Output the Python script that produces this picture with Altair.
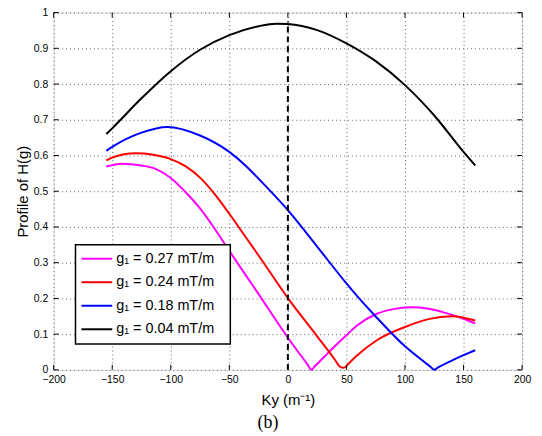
import altair as alt
import pandas as pd

# ---- data ----
series_labels = ["g₁ = 0.27 mT/m", "g₁ = 0.24 mT/m", "g₁ = 0.18 mT/m", "g₁ = 0.04 mT/m"]
series_colors = ["#ff00ff", "#ff0000", "#0000ff", "#000000"]

mag_x = [-155, -142, -125, -112.5, -100, -87.5, -75, -62.5, -50, -25, 0, 10, 17, 20, 23, 30, 40, 50, 59, 76, 90, 105, 120, 133, 150, 160]
mag_y = [0.569, 0.577, 0.572, 0.562, 0.537, 0.498, 0.452, 0.395, 0.333, 0.212, 0.090, 0.045, 0.014, 0.0, 0.010, 0.033, 0.066, 0.097, 0.124, 0.157, 0.170, 0.175, 0.171, 0.161, 0.143, 0.130]

red_x = [-155, -150, -130, -115, -100, -87.5, -75, -62.5, -50, -38, -25, 0, 25, 40, 44, 47, 49, 52, 59, 76, 100, 120, 140, 160]
red_y = [0.586, 0.594, 0.606, 0.602, 0.590, 0.570, 0.538, 0.492, 0.437, 0.381, 0.320, 0.201, 0.094, 0.029, 0.010, 0.006, 0.008, 0.018, 0.040, 0.083, 0.120, 0.142, 0.150, 0.138]

blue_x = [-155, -150, -125, -103, -75, -50, -34, -25, 0, 25, 50, 59, 76, 100, 115, 122, 125, 128, 140, 150, 160]
blue_y = [0.613, 0.624, 0.664, 0.680, 0.656, 0.610, 0.565, 0.535, 0.447, 0.345, 0.242, 0.207, 0.146, 0.066, 0.026, 0.008, 0.0, 0.006, 0.026, 0.041, 0.055]

blk_x = [-155, -150, -125, -100, -75, -50, -25, -10, 0, 25, 50, 75, 100, 125, 150, 160]
blk_y = [0.660, 0.676, 0.760, 0.836, 0.896, 0.937, 0.962, 0.969, 0.968, 0.951, 0.914, 0.864, 0.797, 0.712, 0.610, 0.572]

x_ticks = [-200, -150, -100, -50, 0, 50, 100, 150, 200]
y_ticks = [0, 0.1, 0.2, 0.3, 0.4, 0.5, 0.6, 0.7, 0.8, 0.9, 1.0]

vline_x = [0]
vline_y0 = [0]
vline_y1 = [0.975]

x_title = "Ky (m⁻¹)"
y_title = "Profile of H(g)"
panel_label = "(b)"

# ---- build table ----
rows = []
for lab, xs_, ys_ in zip(series_labels, [mag_x, red_x, blue_x, blk_x], [mag_y, red_y, blue_y, blk_y]):
    for xv, yv in zip(xs_, ys_):
        rows.append({"series": lab, "x": xv, "y": yv})
df = pd.DataFrame(rows)

W, H = 472, 360
FONT = "Liberation Sans"

xs = alt.Scale(domain=[-200, 200], nice=False, zero=False)
ys = alt.Scale(domain=[0, 1], nice=False, zero=False)
cs = alt.Scale(domain=series_labels, range=series_colors)

ax_x = alt.Axis(
    values=x_ticks, title=x_title, grid=True, gridDash=[1, 3], gridColor="#666",
    tickSize=0, domain=False, labelFontSize=10.5, labelFont=FONT, labelColor="black",
    labelPadding=5, titleFont=FONT, titleFontSize=15, titleFontWeight="normal",
    titleColor="black", titlePadding=7, labelFlush=False, labelOverlap=False)
ax_y = alt.Axis(
    values=y_ticks, title=y_title, format=".1~f", grid=True, gridDash=[1, 3], gridColor="#666",
    tickSize=0, domain=False, labelFontSize=10.5, labelFont=FONT, labelColor="black",
    labelPadding=6, titleFont=FONT, titleFontSize=15, titleFontWeight="normal",
    titleColor="black", titlePadding=3, labelFlush=False, labelOverlap=False)

lines = alt.Chart(df).mark_line(strokeWidth=2, interpolate="monotone").encode(
    x=alt.X("x:Q", scale=xs, axis=ax_x),
    y=alt.Y("y:Q", scale=ys, axis=ax_y),
    color=alt.Color("series:N", scale=cs, legend=None),
    detail="series:N",
)

vdf = pd.DataFrame({"x": vline_x, "y": vline_y0, "y2": vline_y1})
vline = alt.Chart(vdf).mark_rule(color="black", strokeWidth=2, strokeDash=[6, 4]).encode(
    x=alt.X("x:Q", scale=xs, axis=ax_x),
    y=alt.Y("y:Q", scale=ys, axis=ax_y),
    y2="y2:Q",
)

xt = pd.DataFrame({"x": x_ticks})
yt = pd.DataFrame({"y": y_ticks})
tick_b = alt.Chart(xt).mark_rule(color="black").encode(
    x=alt.X("x:Q", scale=xs, axis=ax_x), y=alt.value(H), y2=alt.value(H - 5))
tick_t = alt.Chart(xt).mark_rule(color="black").encode(
    x=alt.X("x:Q", scale=xs, axis=ax_x), y=alt.value(0), y2=alt.value(5))
tick_l = alt.Chart(yt).mark_rule(color="black").encode(
    y=alt.Y("y:Q", scale=ys, axis=ax_y), x=alt.value(0), x2=alt.value(5))
tick_r = alt.Chart(yt).mark_rule(color="black").encode(
    y=alt.Y("y:Q", scale=ys, axis=ax_y), x=alt.value(W), x2=alt.value(W - 5))

# legend box (manual)
one = pd.DataFrame({"a": [0]})
LX0, LY0, LX1, LY1 = 22, 234, 178, 334
leg_box = alt.Chart(one).mark_rect(fill="white", stroke="black", strokeWidth=1.5).encode(
    x=alt.value(LX0), x2=alt.value(LX1), y=alt.value(LY0), y2=alt.value(LY1))

leg_layers = []
for i, (lab, col) in enumerate(zip(series_labels, series_colors)):
    yy = 248 + 23.7 * i
    d = pd.DataFrame({"label": [lab]})
    leg_layers.append(alt.Chart(d).mark_rule(color=col, strokeWidth=2).encode(
        x=alt.value(LX0 + 6), x2=alt.value(LX0 + 37), y=alt.value(yy)))
    leg_layers.append(alt.Chart(d).mark_text(align="left", baseline="middle", fontSize=14.5,
                                             font=FONT, color="black").encode(
        x=alt.value(LX0 + 41), y=alt.value(yy), text="label:N"))

pl = alt.Chart(pd.DataFrame({"label": [panel_label]})).mark_text(
    align="center", baseline="middle", fontSize=18, font="Liberation Serif", color="black").encode(
    x=alt.value(216), y=alt.value(414), text="label:N")

chart = alt.layer(lines, vline, tick_b, tick_t, tick_l, tick_r, leg_box, *leg_layers, pl).properties(
    width=W, height=H,
    autosize=alt.AutoSizeParams(type="none"),
    padding={"left": 46, "top": 3, "right": 12, "bottom": 62},
).configure_view(stroke="black", strokeWidth=1).configure(background="white")

chart.save("out.html", embed_options={"renderer": "svg", "actions": False})
